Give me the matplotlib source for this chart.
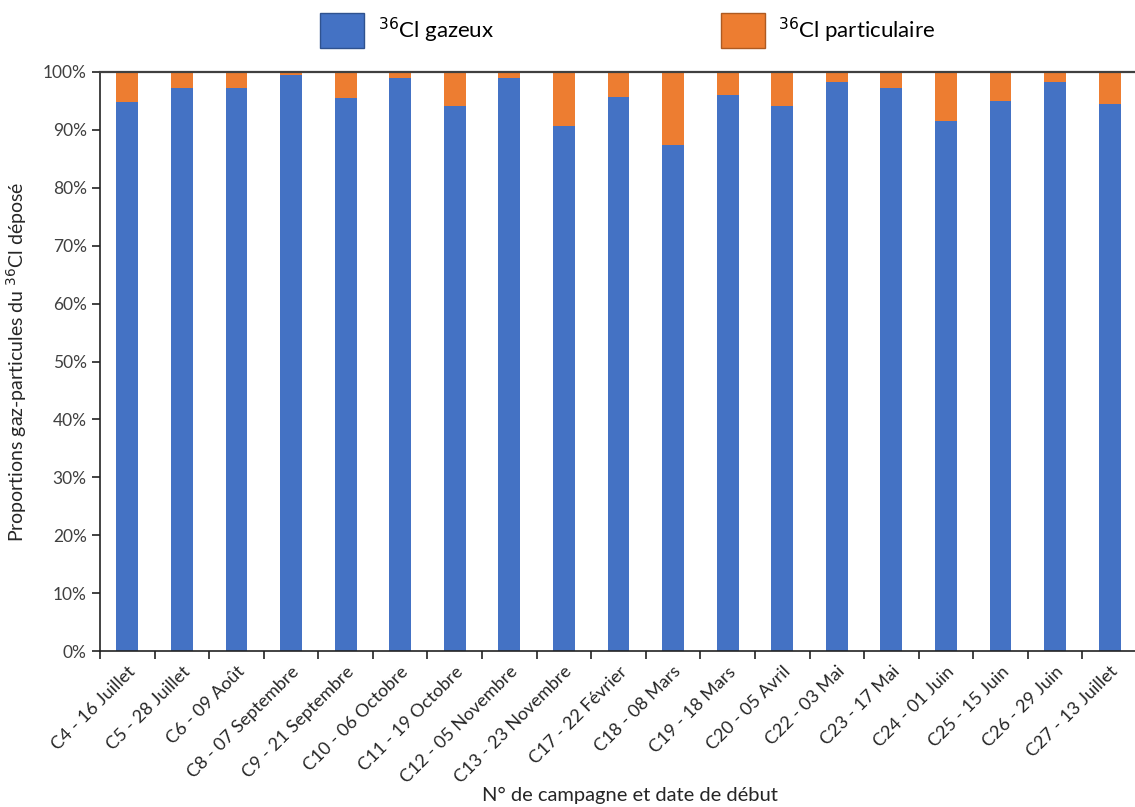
import matplotlib
matplotlib.use("Agg")
import matplotlib.pyplot as plt
import matplotlib.patches as mpatches
import numpy as np
from matplotlib.ticker import FuncFormatter, MultipleLocator

plt.rcParams["font.family"] = ["Lato", "DejaVu Sans"]

campagnes = [
    "C4 - 16 Juillet", "C5 - 28 Juillet", "C6 - 09 Août", "C8 - 07 Septembre",
    "C9 - 21 Septembre", "C10 - 06 Octobre", "C11 - 19 Octobre", "C12 - 05 Novembre",
    "C13 - 23 Novembre", "C17 - 22 Février", "C18 - 08 Mars", "C19 - 18 Mars",
    "C20 - 05 Avril", "C22 - 03 Mai", "C23 - 17 Mai", "C24 - 01 Juin",
    "C25 - 15 Juin", "C26 - 29 Juin", "C27 - 13 Juillet",
]
gazeux = [94.8, 97.2, 97.2, 99.5, 95.5, 99.0, 94.1, 99.0, 90.7, 95.7,
          87.4, 96.0, 94.2, 98.3, 97.3, 91.5, 95.0, 98.3, 94.5]
particulaire = [100.0 - g for g in gazeux]

c_gaz = "#4472C4"
c_part = "#ED7D31"

fig = plt.figure(figsize=(11.35, 8.07), dpi=100)
ax = fig.add_axes([100 / 1135, (807 - 651) / 807, 1037 / 1135, 579 / 807])

x = np.arange(len(campagnes))
ax.bar(x, gazeux, width=0.4, color=c_gaz, zorder=2)
ax.bar(x, particulaire, width=0.4, bottom=gazeux, color=c_part, zorder=2)

ax.set_xlim(-0.5, len(campagnes) - 0.5)
ax.set_ylim(0, 100)
ax.yaxis.set_major_locator(MultipleLocator(10))
ax.yaxis.set_major_formatter(FuncFormatter(lambda v, pos: f"{v:.0f}%"))

ax.set_xticks(x)
ax.set_xticklabels(campagnes, rotation=45, ha="right", rotation_mode="anchor", fontsize=13)
ax.set_xticks(np.arange(len(campagnes) + 1) - 0.5, minor=True)
ax.tick_params(axis="x", which="major", length=0, pad=9)
ax.tick_params(axis="x", which="minor", length=6, width=1.2, color="#222222", direction="out")
ax.tick_params(axis="y", length=6, width=1.2, color="#222222", labelsize=12.5, labelcolor="#404040")
ax.tick_params(axis="x", labelcolor="#262626")

for s in ["left", "bottom"]:
    ax.spines[s].set_color("#222222")
    ax.spines[s].set_linewidth(1.2)
ax.spines["top"].set_color("#404040")
ax.spines["top"].set_linewidth(1.6)
ax.spines["right"].set_visible(False)

fig.text(0.555, 12 / 807, "N° de campagne et date de début", fontsize=14.5,
         color="#262626", ha="center", va="center")
ax.set_ylabel("Proportions gaz-particules du $^{36}$Cl déposé", fontsize=14,
              labelpad=10, color="#262626")

handles = [
    mpatches.Patch(facecolor=c_gaz, edgecolor="#2F528F", label="$^{36}$Cl gazeux"),
    mpatches.Patch(facecolor=c_part, edgecolor="#AE5A21", label="$^{36}$Cl particulaire"),
]
fig.legend(handles=handles, loc="center", bbox_to_anchor=(0.553, 0.962), ncol=2,
           frameon=False, fontsize=16, handlelength=2.0, handleheight=2.0,
           handletextpad=0.6, columnspacing=10.2)

fig.savefig("out.png", dpi=100)
